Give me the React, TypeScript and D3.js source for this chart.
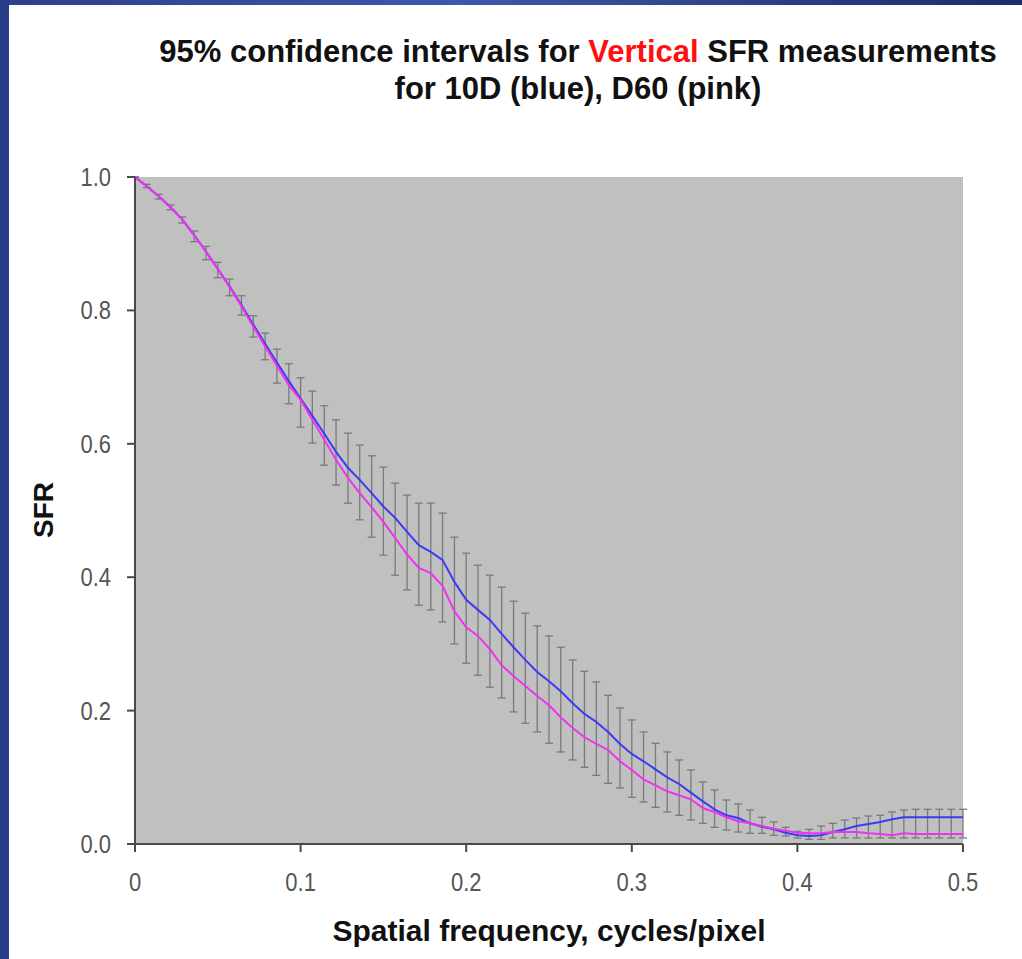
import React from 'react';
import * as d3 from 'd3';

// sample frequencies, cycles/pixel
const freq = [
  0, 0.0071, 0.0143, 0.0214, 0.0286, 0.0357, 0.0429, 0.05, 0.0571, 0.0643,
  0.0714, 0.0786, 0.0857, 0.0929, 0.1, 0.1071, 0.1143, 0.1214, 0.1286, 0.1357,
  0.1429, 0.15, 0.1571, 0.1643, 0.1714, 0.1786, 0.1857, 0.1929, 0.2, 0.2071,
  0.2143, 0.2214, 0.2286, 0.2357, 0.2429, 0.25, 0.2571, 0.2643, 0.2714, 0.2786,
  0.2857, 0.2929, 0.3, 0.3071, 0.3143, 0.3214, 0.3286, 0.3357, 0.3429, 0.35,
  0.3571, 0.3643, 0.3714, 0.3786, 0.3857, 0.3929, 0.4, 0.4071, 0.4143, 0.4214,
  0.4286, 0.4357, 0.4429, 0.45, 0.4571, 0.4643, 0.4714, 0.4786, 0.4857, 0.4929,
  0.5,
];

// 10D mean SFR (blue)
const sfr10D = [
  1.0, 0.986, 0.971, 0.955, 0.936, 0.913, 0.888, 0.862, 0.836, 0.808,
  0.779, 0.75, 0.722, 0.694, 0.668, 0.642, 0.615, 0.588, 0.564, 0.546,
  0.526, 0.506, 0.489, 0.468, 0.448, 0.438, 0.426, 0.393, 0.366, 0.351,
  0.336, 0.315, 0.295, 0.276, 0.258, 0.244, 0.229, 0.211, 0.195, 0.183,
  0.168, 0.15, 0.135, 0.124, 0.112, 0.1, 0.09, 0.077, 0.064, 0.052,
  0.043, 0.039, 0.031, 0.026, 0.022, 0.017, 0.013, 0.012, 0.013, 0.018,
  0.022, 0.027, 0.03, 0.033, 0.037, 0.04, 0.04, 0.04, 0.04, 0.04,
  0.04,
];

// D60 mean SFR (pink)
const sfrD60 = [
  1.0, 0.986, 0.971, 0.955, 0.936, 0.913, 0.888, 0.862, 0.835, 0.806,
  0.776, 0.746, 0.717, 0.688, 0.666, 0.636, 0.606, 0.576, 0.549, 0.526,
  0.505, 0.483, 0.459, 0.434, 0.414, 0.406, 0.387, 0.349, 0.325, 0.312,
  0.292, 0.268, 0.252, 0.237, 0.222, 0.208, 0.19, 0.174, 0.16, 0.15,
  0.141, 0.124, 0.111, 0.097, 0.088, 0.079, 0.073, 0.067, 0.054, 0.048,
  0.04, 0.034, 0.031, 0.027, 0.023, 0.02, 0.017, 0.016, 0.016, 0.018,
  0.018, 0.018, 0.016, 0.015, 0.013, 0.016, 0.015, 0.015, 0.015, 0.015,
  0.015,
];

// upper end of the 95% interval
const ciUpper = [
  1.0, 0.989, 0.974, 0.958, 0.94, 0.919, 0.896, 0.872, 0.847, 0.822,
  0.792, 0.766, 0.742, 0.72, 0.699, 0.679, 0.657, 0.636, 0.616, 0.598,
  0.582, 0.565, 0.541, 0.523, 0.511, 0.511, 0.496, 0.46, 0.436, 0.418,
  0.403, 0.385, 0.364, 0.346, 0.327, 0.312, 0.295, 0.276, 0.259, 0.243,
  0.223, 0.204, 0.186, 0.168, 0.151, 0.138, 0.126, 0.111, 0.093, 0.081,
  0.066, 0.06, 0.051, 0.04, 0.033, 0.025, 0.019, 0.022, 0.027, 0.031,
  0.036, 0.039, 0.042, 0.043, 0.048, 0.051, 0.052, 0.052, 0.052, 0.052,
  0.052,
];

// lower end of the 95% interval
const ciLower = [
  1.0, 0.984, 0.967, 0.951, 0.931, 0.903, 0.876, 0.849, 0.822, 0.793,
  0.76, 0.726, 0.691, 0.66, 0.625, 0.601, 0.568, 0.538, 0.511, 0.486,
  0.46, 0.433, 0.403, 0.381, 0.358, 0.351, 0.333, 0.3, 0.271, 0.253,
  0.235, 0.219, 0.198, 0.181, 0.168, 0.151, 0.138, 0.126, 0.115, 0.103,
  0.091, 0.084, 0.07, 0.063, 0.055, 0.048, 0.043, 0.036, 0.031, 0.025,
  0.021, 0.018, 0.016, 0.016, 0.013, 0.012, 0.009, 0.007, 0.007, 0.009,
  0.009, 0.009, 0.009, 0.009, 0.009, 0.009, 0.009, 0.009, 0.009, 0.009,
  0.009,
];

const xTicks = [0, 0.1, 0.2, 0.3, 0.4, 0.5];
const yTicks = [0, 0.2, 0.4, 0.6, 0.8, 1.0];

const W = 1022;
const H = 959;
const FONT = "'Liberation Sans', Arial, sans-serif";

export default function App() {
  const x = d3.scaleLinear().domain([0, 0.5]).range([135, 963]);
  const y = d3.scaleLinear().domain([0, 1]).range([844, 177]);

  const line = d3
    .line<number>()
    .x((_, i) => x(freq[i]))
    .y((d) => y(d));

  const cap = 4;

  return (
    <svg
      width={W}
      height={H}
      style={{ position: 'absolute', left: 0, top: 0, display: 'block' }}
      fontFamily={FONT}
    >
      <defs>
        <linearGradient id="frame" x1="0" y1="0" x2="1" y2="0">
          <stop offset="0%" stopColor="#2c3f8c" />
          <stop offset="45%" stopColor="#3f58a8" />
          <stop offset="100%" stopColor="#1c2c6c" />
        </linearGradient>
      </defs>

      <rect x={0} y={0} width={W} height={H} fill="#ffffff" />
      <rect x={0} y={0} width={W} height={5} fill="url(#frame)" />
      <rect x={0} y={0} width={9} height={H} fill="#2b3d8a" />

      {/* title */}
      <text x={578} y={62} textAnchor="middle" fontSize={31} fontWeight="bold" fill="#111">
        95% confidence intervals for <tspan fill="#ff1010">Vertical</tspan> SFR measurements
      </text>
      <text x={578} y={99} textAnchor="middle" fontSize={31} fontWeight="bold" fill="#111">
        for 10D (blue), D60 (pink)
      </text>

      {/* plot area */}
      <rect x={x(0)} y={y(1)} width={x(0.5) - x(0)} height={y(0) - y(1)} fill="#c0c0c0" />

      {/* error bars */}
      <g stroke="#7a7a7a" strokeWidth={1.3} fill="none">
        {freq.map((f, i) => {
          const cx = x(f);
          const y1 = y(ciUpper[i]);
          const y2 = y(ciLower[i]);
          return (
            <g key={i}>
              <line x1={cx} x2={cx} y1={y1} y2={y2} />
              <line x1={cx - cap} x2={cx + cap} y1={y1} y2={y1} />
              <line x1={cx - cap} x2={cx + cap} y1={y2} y2={y2} />
            </g>
          );
        })}
      </g>

      {/* series */}
      <path d={line(sfr10D) || ''} fill="none" stroke="#3b3bf5" strokeWidth={2} />
      <path d={line(sfrD60) || ''} fill="none" stroke="#ee33ee" strokeWidth={2} />

      {/* axes */}
      <g stroke="#4a4a4a" strokeWidth={2}>
        <line x1={x(0)} x2={x(0)} y1={y(1)} y2={y(0)} />
        <line x1={x(0)} x2={x(0.5)} y1={y(0)} y2={y(0)} />
        {yTicks.map((t) => (
          <line key={'yt' + t} x1={x(0) - 8} x2={x(0)} y1={y(t)} y2={y(t)} />
        ))}
        {xTicks.map((t) => (
          <line key={'xt' + t} x1={x(t)} x2={x(t)} y1={y(0)} y2={y(0) + 8} />
        ))}
      </g>

      <g fontSize={22} fill="#555555">
        {yTicks.map((t) => (
          <text
            key={'yl' + t}
            transform={`translate(111,${y(t) + 9}) scale(1,1.15)`}
            textAnchor="end"
          >
            {d3.format('.1f')(t)}
          </text>
        ))}
        {xTicks.map((t) => (
          <text
            key={'xl' + t}
            transform={`translate(${x(t)},891) scale(1,1.15)`}
            textAnchor="middle"
          >
            {d3.format('')(t)}
          </text>
        ))}
      </g>

      {/* axis titles */}
      <text x={549} y={941} textAnchor="middle" fontSize={30} fontWeight="bold" fill="#111">
        Spatial frequency, cycles/pixel
      </text>
      <text
        transform="translate(53,510) rotate(-90)"
        textAnchor="middle"
        fontSize={28}
        fontWeight="bold"
        fill="#111"
      >
        SFR
      </text>
    </svg>
  );
}
